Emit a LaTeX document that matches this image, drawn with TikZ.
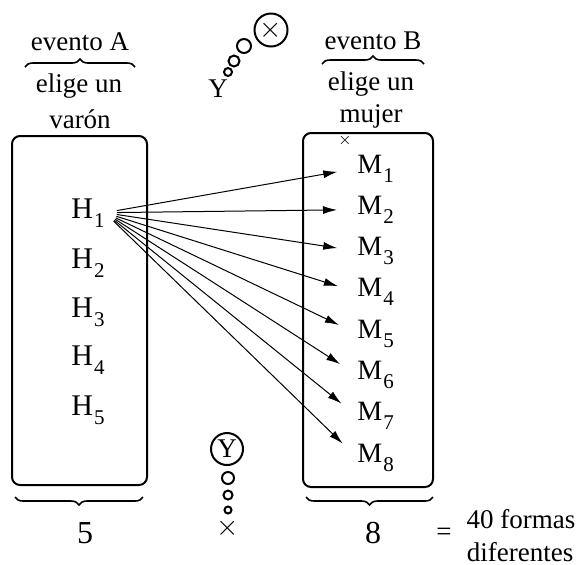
\documentclass[tikz,border=0pt]{standalone}
\usepackage{fontspec}
\setmainfont{Liberation Serif}
\usetikzlibrary{arrows.meta,decorations.pathreplacing}
\newcommand{\ind}[1]{\kern0.5pt\raisebox{-4.5pt}{\fontsize{10.5}{10.5}\selectfont #1}}
\tikzset{
  caja/.style={draw, line width=1pt, rounded corners=4pt},
  txt/.style={font=\fontsize{13.5}{16}\selectfont, inner sep=0pt, anchor=base},
  num/.style={font=\fontsize{16}{18}\selectfont, inner sep=0pt, anchor=base},
  hlab/.style={font=\fontsize{15}{18}\selectfont, inner sep=0pt, anchor=base west},
  mlab/.style={font=\fontsize{14}{17}\selectfont, inner sep=0pt, anchor=base west},
  llave/.style={decorate, decoration={brace, amplitude=4pt}, line width=0.8pt},
  burbuja/.style={draw, circle, line width=1pt, inner sep=0pt},
  flecha/.style={-{Latex[length=7pt,width=4pt]}, line width=0.5pt, shorten <=6pt, shorten >=10pt}
}
\begin{document}
\begin{tikzpicture}[x=0.5pt, y=-0.5pt]
\useasboundingbox (0,0) rectangle (581,564);
\node[caja, minimum width=67.5pt, minimum height=174.5pt] (cajaA) at (79.5,310.5) {};
\node[caja, minimum width=65pt, minimum height=177pt] (cajaB) at (368,310) {};
\node[txt] (evA) at (80,50) {evento A};
\node[txt] (elA) at (79,92) {elige un};
\node[txt] (vaA) at (80,128) {varón};
\node[txt] (evB) at (373,49) {evento B};
\node[txt] (elB) at (371,90) {elige un};
\node[txt] (muB) at (371,122) {mujer};
\draw[llave] (25,67) -- (135,67);
\draw[llave] (322,64) -- (424,64);
\draw[llave] (143,497) -- (15,497);
\draw[llave] (433,497) -- (306,497);
\foreach \i/\y in {1/218,2/268,3/317,4/365,5/415}
  \node[hlab] (h\i) at (71,\y) {H\ind{\i}};
\foreach \i in {1,...,8}
  \node[mlab] (m\i) at (357,{173+41.3*(\i-1)}) {M\ind{\i}};
\foreach \i in {1,...,8}
  \draw[flecha] (h1.east) -- (m\i.west);
\node[font=\fontsize{8}{8}\selectfont, inner sep=0pt] (xB) at (345,140) {$\times$};
\node[txt, anchor=center] (yA) at (218,89) {Y};
\node[burbuja, minimum size=4pt] (pA1) at (228,72) {};
\node[burbuja, minimum size=5.5pt] (pA2) at (234,61) {};
\node[burbuja, minimum size=7pt] (pA3) at (244,46) {};
\node[burbuja, minimum size=16.5pt, font=\fontsize{15}{15}\selectfont] (xoA) at (271,30) {$\times$};
\node[burbuja, minimum size=16pt, font=\fontsize{13.5}{14}\selectfont] (yoB) at (227,449) {Y};
\node[burbuja, minimum size=6pt] (pB1) at (228,478) {};
\node[burbuja, minimum size=4.5pt] (pB2) at (228,495) {};
\node[burbuja, minimum size=3.5pt] (pB3) at (228,510) {};
\node[font=\fontsize{14}{14}\selectfont, inner sep=0pt] (xB2) at (228,528) {$\times$};
\node[num] (nA) at (85,543) {5};
\node[num] (nB) at (373,543) {8};
\node[txt, anchor=center] (igual) at (444,534) {=};
\node[txt] (fo1) at (521,528) {40 formas};
\node[txt] (fo2) at (520,561) {diferentes};
\end{tikzpicture}
\end{document}
